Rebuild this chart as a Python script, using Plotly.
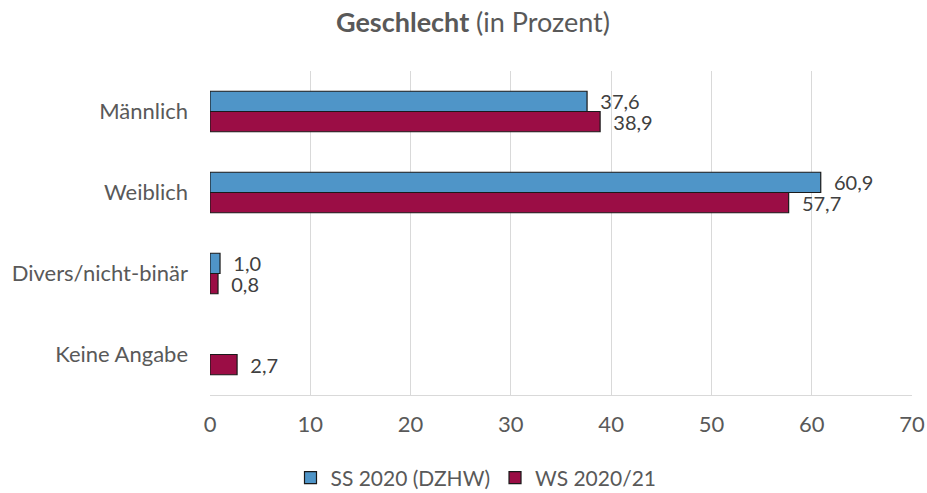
import plotly.graph_objects as go

categories = ["Männlich", "Weiblich", "Divers/nicht-binär", "Keine Angabe"]
ss2020 = [37.6, 60.9, 1.0, None]
ws2020 = [38.9, 57.7, 0.8, 2.7]
series_names = ["SS 2020 (DZHW)", "WS 2020/21"]
x_ticks = [0, 10, 20, 30, 40, 50, 60, 70]

FONT = "Lato, Carlito, Calibri, sans-serif"
TXT = "#595959"

fig = go.Figure()
fig.add_trace(go.Bar(
    y=categories, x=ss2020, orientation="h", name=series_names[0],
    marker=dict(color="#4f95c8", line=dict(color="#1a1a1a", width=1.2)),
    texttemplate="  %{x:.1f}", textposition="outside", cliponaxis=False,
    constraintext="none",
    textfont=dict(family=FONT, size=20, color="#404040"),
))
fig.add_trace(go.Bar(
    y=categories, x=ws2020, orientation="h", name=series_names[1],
    marker=dict(color="#9b0d45", line=dict(color="#1a1a1a", width=1.2)),
    texttemplate="  %{x:.1f}", textposition="outside", cliponaxis=False,
    constraintext="none",
    textfont=dict(family=FONT, size=20, color="#404040"),
))

fig.update_layout(
    width=927, height=493,
    paper_bgcolor="white", plot_bgcolor="white",
    separators=",.",
    barmode="group", bargap=0.5, bargroupgap=0,
    margin=dict(l=210, r=15, t=71, b=98, autoexpand=False),
    font=dict(family=FONT, color=TXT, size=21),
    title=dict(text="<b>Geschlecht</b> (in Prozent)", xref="container",
               x=473/927, xanchor="center",
               y=1 - 23/493, yanchor="middle",
               font=dict(family=FONT, size=27, color=TXT)),
    xaxis=dict(range=[0, 70], tickvals=x_ticks, showgrid=True, gridcolor="#d9d9d9",
               gridwidth=1, zeroline=False, showline=True, linecolor="#d9d9d9",
               ticks="", automargin=False, ticklabelstandoff=10,
               tickfont=dict(family=FONT, size=22, color=TXT)),
    yaxis=dict(autorange="reversed", showgrid=False, showline=False, ticks="",
               ticklabelstandoff=21, automargin=False,
               tickfont=dict(family=FONT, size=22, color=TXT)),
    legend=dict(orientation="h", xref="container", x=476/927, xanchor="center",
                yref="container", y=15/493, yanchor="middle",
                font=dict(family=FONT, size=21, color=TXT), itemwidth=30,
                traceorder="normal"),
)

fig.write_html("out.html", config={"displayModeBar": False},
               post_script="document.body.style.margin='0';")
